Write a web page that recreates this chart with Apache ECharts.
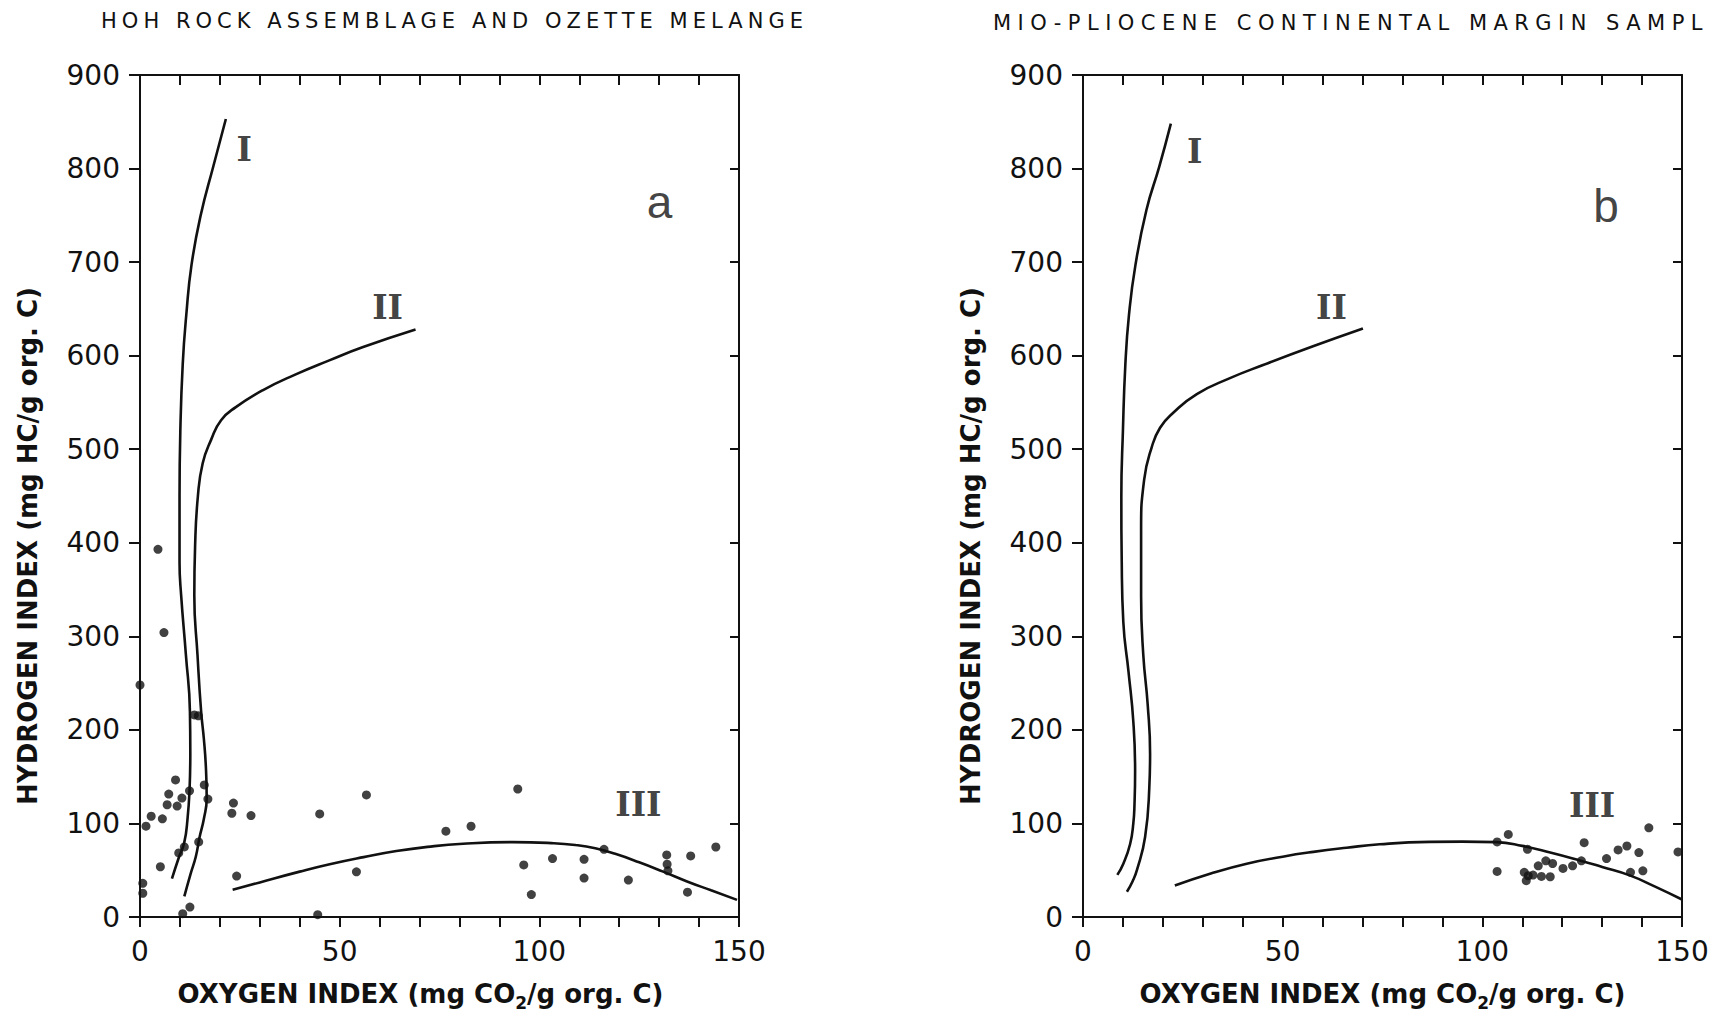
<!DOCTYPE html>
<html><head><meta charset="utf-8">
<script src="https://cdn.jsdelivr.net/npm/echarts@6/dist/echarts.min.js"></script>
<style>html,body{margin:0;padding:0;background:#fff}#c{width:1721px;height:1016px}</style>
</head><body><div id="c"></div>
<script>
// ---------- text ----------
const titleA = 'HOH ROCK ASSEMBLAGE AND OZETTE MELANGE';
const titleB = 'MIO-PLIOCENE CONTINENTAL MARGIN SAMPL';
const xAxisName = 'OXYGEN INDEX (mg CO{sub|2}/g org. C)';
const yAxisName = 'HYDROGEN INDEX (mg HC/g org. C)';
const panelLetters = ['a', 'b'];
const curveNames = ['I', 'II', 'III'];

// ---------- axes ----------
const oiRange = [0, 150];
const hiRange = [0, 900];
const oiLabelStep = 50;

// ---------- panel a: Hoh rock assemblage / Ozette melange samples [OI, HI] ----------
const samplesA = [
  [4.5,393],[6.0,304],[0,248],[13.6,216],[14.6,215],[8.9,146.5],[7.2,131.4],[10.5,127.1],
  [12.4,134.9],[16.1,141.2],[17.0,126],[6.8,120],[9.3,118.6],[2.8,107.7],[5.6,104.9],[1.5,97.1],
  [11.1,74.9],[9.7,68.5],[14.7,80.2],[5.1,53.7],[0.7,36],[0.7,25.4],[10.7,3.5],[12.5,10.6],
  [23.4,121.8],[23.0,110.9],[27.8,108.4],[24.2,43.8],[45.0,110.2],[44.5,2.5],
  [56.7,130.5],[54.2,48.3],[76.6,91.7],[82.9,97],[94.6,136.8],[96.1,55.7],[98.0,24],
  [103.3,62.4],[111.2,61.7],[111.2,41.6],[116.2,72.3],[122.3,39.5],[131.9,66.3],[132.0,56.4],
  [132.2,49.4],[137.9,65.3],[137.1,26.5],[144.2,74.8]
];
// ---------- panel b: Mio-Pliocene continental margin samples [OI, HI] ----------
const samplesB = [
  [103.7,80.2],[106.5,88.3],[103.7,48.7],[111.3,72.4],[110.5,47.7],[111.0,38.8],[111.5,44.1],
  [112.7,44.8],[114.8,43.4],[117.0,43.0],[114.0,54.7],[115.9,60.0],[117.6,57.2],[120.2,51.9],
  [122.6,54.7],[124.8,60.0],[125.5,79.4],[131.1,62.5],[134.0,71.7],[136.2,75.9],[139.2,68.9],
  [137.1,47.7],[140.2,49.4],[141.7,95.3],[149.0,69.6]
];

// ---------- kerogen type evolution paths [OI, HI] ----------
const typeI_A = [[8.0,41],[9.6,62],[11.1,80],[11.9,105],[12.4,135],[12.6,175],[12.5,220],[11.5,280],
  [10.3,344],[9.9,379],[9.9,450],[10.1,520],[10.7,591],[11.6,644],[12.9,697],[15.2,750],[18.4,803],[21.5,853]];
const typeII_A = [[11.1,22],[12.6,45],[14.0,65],[14.9,85],[16.0,105],[16.7,127],[16.5,160],[16.0,190],
  [15.3,220],[14.4,280],[13.6,344],[13.8,397],[14.5,450],[15.7,485],[17.8,510],[20.3,531],[24.0,545],
  [30.7,563],[39.0,580],[47.4,595],[55.7,609],[69.0,628]];
const typeIII_A = [[23.2,29],[30,37],[40,48.5],[47.5,56.4],[56,64],[64.2,70.5],[72,75],[80.9,78.3],
  [93.4,80],[103,79],[109,77],[114,73.5],[119,67.5],[125,58.5],[131,48.5],[137,38],[143,28.5],[149.5,18.3]];

const typeI_B = [[8.6,45],[10.1,57],[11.8,78],[12.6,100],[12.9,121],[13.05,156],[12.6,209],[11.4,262],
  [10.1,315],[9.7,380],[9.6,449],[10.0,520],[10.6,590],[11.5,643],[13.1,696],[15.9,756],[19.1,802],[22.0,848]];
const typeII_B = [[11.0,27],[12.4,38],[13.5,50],[15.55,85.5],[16.6,138],[16.8,174],[16.2,227],[15.1,280],
  [14.55,343],[14.55,414],[15.3,467],[17.2,502],[19.3,523],[22.6,539],[28.5,559],[36.8,576],[45.1,590],
  [57.6,610],[70.1,629]];
const typeIII_B = [[23.0,33.6],[32,46.5],[41,57],[50,64.5],[57.7,69.6],[66,74],[74.3,77.7],[86.8,80.3],
  [95,80.6],[103.5,80],[110,76],[117,69],[124.4,60.5],[130,53.5],[136.9,44.5],[143,33],[150,18.7]];

// label anchor points in data coordinates [OI, HI]
const curveLabelPosA = [[26.1,820],[62.0,652],[124.8,120]];
const curveLabelPosB = [[28.0,818],[62.2,652],[127.5,119]];
const letterPos = [[130.1,764],[131.0,760]];

// ---------- build ----------
const FONT = 'DejaVu Sans';
const INK = '#111';
const grids = [
  {left: 140, top: 75, width: 599, height: 849},
  {left: 1083, top: 75, width: 599, height: 849}
];

function bottomAxis(g, namePad) {
  return {
    type: 'value', gridIndex: g, position: 'bottom', min: oiRange[0], max: oiRange[1], interval: 10,
    axisLine: {show: true, onZero: false, lineStyle: {color: INK, width: 2}},
    axisTick: {show: true, inside: false, length: 10, lineStyle: {color: INK, width: 2}},
    splitLine: {show: false},
    axisLabel: {show: true, margin: 20, color: INK, fontFamily: FONT, fontSize: 28,
      formatter: v => (v % oiLabelStep === 0 ? String(v) : '')},
    name: xAxisName, nameLocation: 'middle', nameGap: 60,
    nameTextStyle: {color: INK, fontFamily: FONT, fontSize: 26, fontWeight: 'bold', lineHeight: 34, padding: namePad,
      rich: {sub: {fontFamily: FONT, fontSize: 17, fontWeight: 'bold', lineHeight: 17, verticalAlign: 'bottom', color: INK}}}
  };
}
function topAxis(g) {
  return {
    type: 'value', gridIndex: g, position: 'top', min: oiRange[0], max: oiRange[1], interval: 10,
    axisLine: {show: true, onZero: false, lineStyle: {color: INK, width: 2}},
    axisTick: {show: true, inside: true, length: 10, lineStyle: {color: INK, width: 2}},
    splitLine: {show: false}, axisLabel: {show: false}
  };
}
function leftAxis(g) {
  return {
    type: 'value', gridIndex: g, position: 'left', min: hiRange[0], max: hiRange[1], interval: 100,
    axisLine: {show: true, onZero: false, lineStyle: {color: INK, width: 2}},
    axisTick: {show: true, inside: false, length: 11, lineStyle: {color: INK, width: 2}},
    splitLine: {show: false},
    axisLabel: {show: true, margin: 20, color: INK, fontFamily: FONT, fontSize: 28},
    name: yAxisName, nameLocation: 'middle', nameGap: 99,
    nameTextStyle: {color: INK, fontFamily: FONT, fontSize: 26, fontWeight: 'bold', padding: [0, 100, 0, 0]}
  };
}
function rightAxis(g) {
  return {
    type: 'value', gridIndex: g, position: 'right', min: hiRange[0], max: hiRange[1], interval: 100,
    axisLine: {show: true, onZero: false, lineStyle: {color: INK, width: 2}},
    axisTick: {show: true, inside: true, length: 9, lineStyle: {color: INK, width: 2}},
    splitLine: {show: false}, axisLabel: {show: false}
  };
}
function curve(data, xi, yi) {
  return {type: 'line', xAxisIndex: xi, yAxisIndex: yi, data: data, smooth: 0.5, showSymbol: false,
    symbol: 'none', clip: false, lineStyle: {color: INK, width: 2.6}, z: 3, silent: true};
}
function dots(data, xi, yi) {
  return {type: 'scatter', xAxisIndex: xi, yAxisIndex: yi, data: data, symbol: 'circle', symbolSize: 9,
    clip: false, itemStyle: {color: INK}, z: 4, silent: true};
}
function textMarks(pos, names, xi, yi, style) {
  return {type: 'scatter', xAxisIndex: xi, yAxisIndex: yi, symbolSize: 0, silent: true, clip: false,
    data: pos.map((p, i) => ({value: p, name: names[i]})),
    label: Object.assign({show: true, position: 'inside', formatter: p => p.name,
      align: 'center', verticalAlign: 'middle', color: INK}, style), z: 5};
}
const numeralStyle = {fontFamily: 'DejaVu Serif', fontSize: 33, fontWeight: 'bold'};
const letterStyle = {fontFamily: 'Liberation Sans', fontSize: 46};

const option = {
  backgroundColor: '#fff',
  animation: false,
  grid: grids,
  xAxis: [bottomAxis(0, [0, 38, 0, 0]), topAxis(0), bottomAxis(1, [0, 0, 0, 0]), topAxis(1)],
  yAxis: [leftAxis(0), rightAxis(0), leftAxis(1), rightAxis(1)],
  graphic: [
    {type: 'text', left: 101, top: 10, style: {text: titleA, font: '21px "DejaVu Sans"', fill: INK}},
    {type: 'text', left: 993, top: 12, style: {text: titleB, font: '21px "DejaVu Sans"', fill: INK}}
  ],
  series: [
    curve(typeI_A, 0, 0), curve(typeII_A, 0, 0), curve(typeIII_A, 0, 0),
    dots(samplesA, 0, 0),
    textMarks(curveLabelPosA, curveNames, 0, 0, numeralStyle),
    textMarks([letterPos[0]], [panelLetters[0]], 0, 0, letterStyle),
    curve(typeI_B, 2, 2), curve(typeII_B, 2, 2), curve(typeIII_B, 2, 2),
    dots(samplesB, 2, 2),
    textMarks(curveLabelPosB, curveNames, 2, 2, numeralStyle),
    textMarks([letterPos[1]], [panelLetters[1]], 2, 2, letterStyle)
  ]
};

const chart = echarts.init(document.getElementById('c'), null, {renderer: 'svg'});
chart.setOption(option);

// widen the letter-spaced headings to their printed widths
const titleWidths = {};
titleWidths[titleA] = 707;
titleWidths[titleB] = 716;
function spaceTitles() {
  document.querySelectorAll('#c svg text').forEach(t => {
    const s = t.textContent;
    const target = titleWidths[s];
    if (!target) return;
    let ls = 0;
    for (let k = 0; k < 4; k++) {
      t.style.letterSpacing = ls + 'px';
      const w = t.getBBox().width;
      ls += (target - w) / (s.length - 1);
    }
    t.style.letterSpacing = ls + 'px';
  });
}
chart.on('finished', spaceTitles);
spaceTitles();
setTimeout(spaceTitles, 50);
</script></body></html>
